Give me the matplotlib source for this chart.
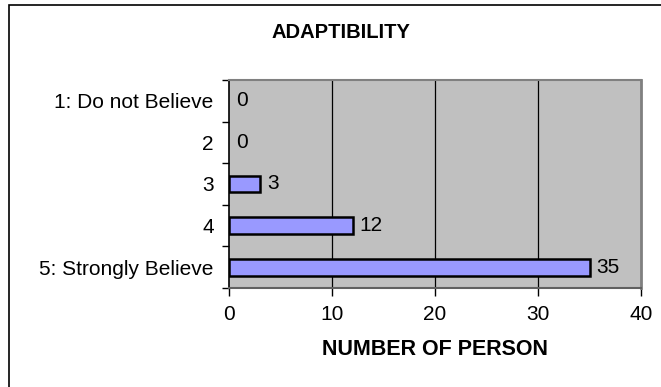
import numpy as np
import matplotlib.pyplot as plt
from matplotlib.patches import Rectangle

plt.rcParams['font.family'] = ['Liberation Sans', 'DejaVu Sans']

categories = ['1: Do not Believe', '2', '3', '4', '5: Strongly Believe']
counts = [0, 0, 3, 12, 35]
xticks = [0, 10, 20, 30, 40]

fig = plt.figure(figsize=(6.61, 3.87), dpi=100)
fig.patch.set_facecolor('white')

# outer chart border (runs off the right and bottom edges)
fig.patches.append(Rectangle((9 / 661, -0.1), 1.2, 1.1 - 5 / 387,
                             transform=fig.transFigure, fill=False,
                             edgecolor='black', linewidth=1.2))

ax = fig.add_axes([229 / 661, 1 - 288 / 387, (641 - 229) / 661, (288 - 80) / 387])
ax.set_facecolor('#C0C0C0')

y = np.arange(len(categories))
# empty categories get no visible outline
edge_w = [1.8 if c > 0 else 0 for c in counts]
ax.barh(y, counts, height=0.4, color='#9999FF', edgecolor='black',
        linewidth=edge_w, zorder=3)

for yi, c in zip(y, counts):
    ax.text(c + 0.7, yi, str(c), va='center', ha='left', fontsize=15, zorder=4)

ax.set_xlim(0, 40)
ax.set_ylim(4.5, -0.5)

ax.set_xticks(xticks)
ax.set_xticklabels([str(t) for t in xticks], fontsize=15)
ax.set_yticks(y)
ax.set_yticklabels(categories, fontsize=15)

# category boundaries carry the tick marks on the value axis
ax.set_yticks(np.arange(-0.5, len(categories)), minor=True)
ax.tick_params(axis='y', which='major', length=0, pad=11)
ax.tick_params(axis='y', which='minor', length=5, width=1, direction='out')
ax.tick_params(axis='x', which='major', length=6, width=1, direction='out', pad=6)

for xv in xticks[1:-1]:
    ax.axvline(xv, color='black', linewidth=0.9, zorder=1)

ax.spines['left'].set_color('black')
ax.spines['left'].set_linewidth(1.2)
ax.spines['bottom'].set_color('#606060')
ax.spines['bottom'].set_linewidth(1.5)
ax.spines['top'].set_color('#808080')
ax.spines['top'].set_linewidth(1.5)
ax.spines['right'].set_color('#808080')
ax.spines['right'].set_linewidth(2)

fig.text(341 / 661, 1 - 33 / 387, 'ADAPTIBILITY', ha='center', va='center',
         fontsize=14.5, fontweight='bold')
ax.set_xlabel('NUMBER OF PERSON', fontsize=15.5, fontweight='bold', labelpad=11)

fig.savefig('out.png', dpi=100)
